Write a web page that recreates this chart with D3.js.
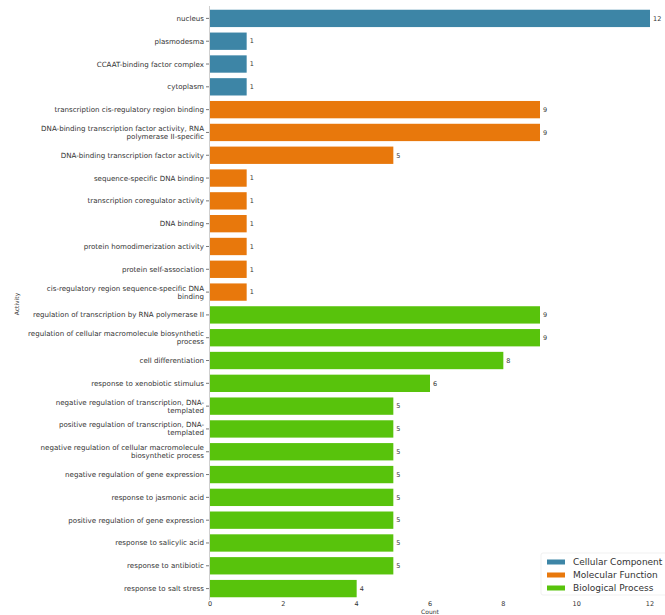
<!DOCTYPE html>
<html>
<head>
<meta charset="utf-8">
<script src="https://cdn.jsdelivr.net/npm/d3@7"></script>
<style>
  html, body { margin: 0; padding: 0; background: #ffffff; }
  svg { display: block; }
  text { font-family: "DejaVu Sans", sans-serif; }
</style>
</head>
<body>
<svg id="chart" width="665" height="615"></svg>
<script>
// GO term categories, in plotting order (top to bottom)
const categories = [
  "Cellular Component", "Molecular Function", "Biological Process"
];
const termLabels = [
  "nucleus",
  "plasmodesma",
  "CCAAT-binding factor complex",
  "cytoplasm",
  "transcription cis-regulatory region binding",
  "DNA-binding transcription factor activity, RNA\npolymerase II-specific",
  "DNA-binding transcription factor activity",
  "sequence-specific DNA binding",
  "transcription coregulator activity",
  "DNA binding",
  "protein homodimerization activity",
  "protein self-association",
  "cis-regulatory region sequence-specific DNA\nbinding",
  "regulation of transcription by RNA polymerase II",
  "regulation of cellular macromolecule biosynthetic\nprocess",
  "cell differentiation",
  "response to xenobiotic stimulus",
  "negative regulation of transcription, DNA-\ntemplated",
  "positive regulation of transcription, DNA-\ntemplated",
  "negative regulation of cellular macromolecule\nbiosynthetic process",
  "negative regulation of gene expression",
  "response to jasmonic acid",
  "positive regulation of gene expression",
  "response to salicylic acid",
  "response to antibiotic",
  "response to salt stress"
];
const termCategory = [
  0, 0, 0, 0,
  1, 1, 1, 1, 1, 1, 1, 1, 1,
  2, 2, 2, 2, 2, 2, 2, 2, 2, 2, 2, 2, 2
];
const counts = [
  12, 1, 1, 1,
  9, 9, 5, 1, 1, 1, 1, 1, 1,
  9, 9, 8, 6, 5, 5, 5, 5, 5, 5, 5, 5, 4
];
const xTicks = [0, 2, 4, 6, 8, 10, 12];
const categoryColors = ["#3d85a6", "#e8780c", "#58c30c"];

const rows = termLabels.map((label, i) => ({
  label, count: counts[i], cat: termCategory[i], key: "t" + i
}));

const svg = d3.select("#chart");

const x = d3.scaleLinear().domain([0, 12]).range([210, 650]);
const y = d3.scaleBand()
  .domain(rows.map(d => d.key))
  .range([7, 600])
  .paddingInner(0.24)
  .paddingOuter(0.12);

// left spine
svg.append("line")
  .attr("x1", x(0) - 0.5).attr("x2", x(0) - 0.5)
  .attr("y1", 6).attr("y2", 600)
  .attr("stroke", "#cfcfcf").attr("stroke-width", 1);

// bars
svg.append("g").selectAll("rect")
  .data(rows)
  .join("rect")
  .attr("x", x(0))
  .attr("y", d => y(d.key))
  .attr("width", d => x(d.count) - x(0))
  .attr("height", y.bandwidth())
  .attr("fill", d => categoryColors[d.cat]);

// value labels
svg.append("g").selectAll("text")
  .data(rows)
  .join("text")
  .attr("x", d => x(d.count) + 3)
  .attr("y", d => y(d.key) + y.bandwidth() / 2)
  .attr("dy", "0.35em")
  .attr("font-size", 6.5)
  .attr("fill", "#333")
  .text(d => d.count);

// y axis: term labels with small ticks
const yAxis = svg.append("g");
rows.forEach(d => {
  const cy = y(d.key) + y.bandwidth() / 2;
  yAxis.append("line")
    .attr("x1", x(0) - 4).attr("x2", x(0) - 1)
    .attr("y1", cy).attr("y2", cy)
    .attr("stroke", "#555").attr("stroke-width", 0.8);
  const lines = d.label.split("\n");
  const t = yAxis.append("text")
    .attr("text-anchor", "end")
    .attr("font-size", 7.1)
    .attr("fill", "#333");
  const lh = 8;
  const start = cy - (lines.length - 1) * lh / 2;
  lines.forEach((ln, j) => {
    t.append("tspan")
      .attr("x", x(0) - 6)
      .attr("y", start + j * lh)
      .attr("dy", "0.35em")
      .text(ln);
  });
});

// x axis tick labels
svg.append("g").selectAll("text")
  .data(xTicks)
  .join("text")
  .attr("x", d => x(d))
  .attr("y", 606)
  .attr("text-anchor", "middle")
  .attr("font-size", 6.5)
  .attr("fill", "#333")
  .text(d => d);

// axis titles
svg.append("text")
  .attr("x", x(6)).attr("y", 614)
  .attr("text-anchor", "middle")
  .attr("font-size", 6)
  .attr("fill", "#333")
  .text("Count");
svg.append("text")
  .attr("transform", "translate(19,304) rotate(-90)")
  .attr("text-anchor", "middle")
  .attr("font-size", 6)
  .attr("fill", "#333")
  .text("Activity");

// legend
const legend = svg.append("g");
legend.append("rect")
  .attr("x", 541).attr("y", 553)
  .attr("width", 126).attr("height", 42)
  .attr("rx", 2)
  .attr("fill", "#ffffff").attr("fill-opacity", 0.8)
  .attr("stroke", "#eeeeee").attr("stroke-width", 0.8);
categories.forEach((c, i) => {
  const cy = 562 + i * 13;
  legend.append("rect")
    .attr("x", 547).attr("y", cy - 2.5)
    .attr("width", 18).attr("height", 5)
    .attr("fill", categoryColors[i]);
  legend.append("text")
    .attr("x", 573).attr("y", cy)
    .attr("dy", "0.35em")
    .attr("font-size", 9)
    .attr("fill", "#333")
    .text(c);
});
</script>
</body>
</html>
